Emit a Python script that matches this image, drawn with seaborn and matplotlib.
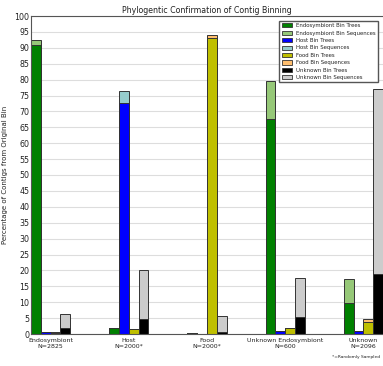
import matplotlib
matplotlib.use("Agg")
import matplotlib.pyplot as plt
from matplotlib.patches import Patch
import pandas as pd
import seaborn as sns

# Groups of contigs by their original bin
groups = ["Endosymbiont\nN=2825", "Host\nN=2000*", "Food\nN=2000*",
          "Unknown Endosymbiont\nN=600", "Unknown\nN=2096"]
bins = ["Endosymbiont", "Host", "Food", "Unknown"]

# Percentage of contigs assigned to each bin (trees / sequences)
endo_trees = [90.9, 1.8, 0.3, 67.7, 9.7]
endo_seqs = [92.5, 1.8, 0.3, 79.7, 17.2]
host_trees = [0.7, 72.7, 0.1, 0.9, 1.0]
host_seqs = [0.7, 76.4, 0.1, 0.9, 1.0]
food_trees = [0.4, 1.5, 93.1, 1.8, 3.9]
food_seqs = [0.6, 1.5, 94.1, 1.9, 4.6]
unk_trees = [2.0, 4.7, 0.5, 5.5, 18.8]
unk_seqs = [6.2, 20.2, 5.8, 17.6, 77.0]

tree_colors = ["#008000", "#0000ff", "#bfbf00", "#000000"]
seq_colors = ["#96c878", "#96cccc", "#ffbe6e", "#cccccc"]

trees = [endo_trees, host_trees, food_trees, unk_trees]
seqs = [endo_seqs, host_seqs, food_seqs, unk_seqs]

rows = []
for b, tv, sv in zip(bins, trees, seqs):
    for g, t, s in zip(groups, tv, sv):
        rows.append({"group": g, "bin": b, "trees": t, "seqs": s})
df = pd.DataFrame(rows)

sns.set_style("white")
plt.rcParams["font.family"] = ["DejaVu Sans"]

fig = plt.figure(figsize=(3.83, 3.66), dpi=100)
ax = fig.add_axes([31 / 383, 1 - 334 / 366, (383 - 31) / 383, (334 - 16) / 366])

common = dict(data=df, x="group", hue="bin", order=groups, hue_order=bins,
              width=0.5, saturation=1, errorbar=None, legend=False, ax=ax,
              edgecolor="#333333", linewidth=0.7)
sns.barplot(y="seqs", palette=seq_colors, **common)
sns.barplot(y="trees", palette=tree_colors, **common)

ax.set_xlim(-0.25, 4.25)
ax.set_ylim(0, 100)
ax.set_yticks(range(0, 101, 5))
ax.yaxis.grid(True, color="#dddddd", linewidth=0.8)
ax.set_axisbelow(True)
ax.tick_params(axis="y", labelsize=5.7, pad=1, length=0, colors="#222222")
ax.tick_params(axis="x", labelsize=4.5, pad=3, length=0, colors="#222222")
ax.set_xlabel("")
ax.set_ylabel("Percentage of Contigs from Original Bin", fontsize=5.0,
              labelpad=5, color="#222222")
ax.set_title("Phylogentic Confirmation of Contig Binning", fontsize=5.7,
             pad=2, color="#222222")
for side in ["left", "top", "bottom"]:
    ax.spines[side].set_color("#555555")
    ax.spines[side].set_linewidth(0.8)
ax.spines["right"].set_visible(False)

handles = []
labels = []
for b, tc, sc in zip(bins, tree_colors, seq_colors):
    handles.append(Patch(facecolor=tc, edgecolor="#333333", linewidth=0.6))
    labels.append(f"{b} Bin Trees")
    handles.append(Patch(facecolor=sc, edgecolor="#333333", linewidth=0.6))
    labels.append(f"{b} Bin Sequences")
fig.legend(handles, labels, loc="upper right",
           bbox_to_anchor=(378 / 383, 1 - 21 / 366), fontsize=3.9,
           frameon=True, fancybox=False, framealpha=1, edgecolor="#555555",
           handlelength=1.9, handleheight=0.8, handletextpad=0.8,
           labelspacing=0.45, borderpad=0.4, borderaxespad=0)

fig.text(380 / 383, 1 - 357 / 366, "*=Randomly Sampled", fontsize=3.2,
         ha="right", va="center", color="#222222")

fig.savefig("out.png", dpi=100)
